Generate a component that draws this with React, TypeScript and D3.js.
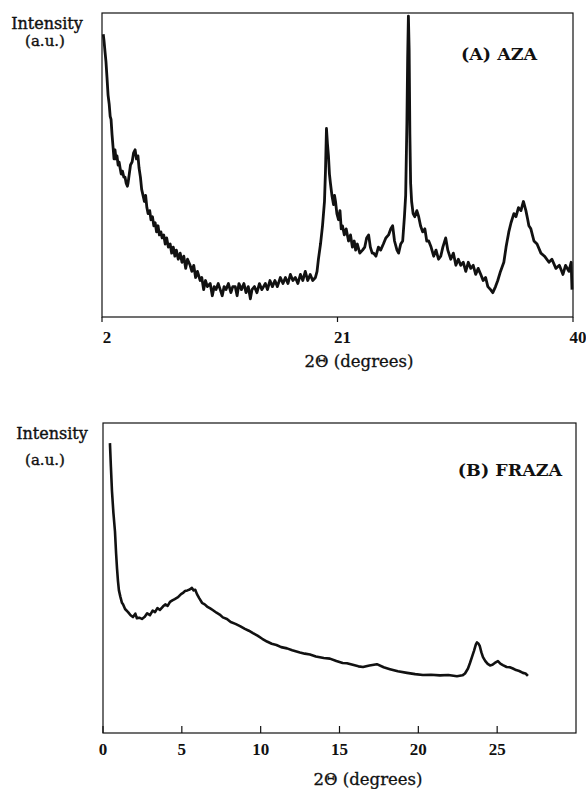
import React from "react";
import * as d3 from "d3";

// (A) AZA pattern, 2θ in degrees vs intensity (a.u.)
const azaTheta = [
  2.1, 2.16, 2.25, 2.32, 2.4, 2.49, 2.58, 2.66, 2.73, 2.81, 2.89, 2.97, 3.05, 3.13, 3.21, 3.3, 3.38, 3.46, 3.55, 3.65,
  3.76, 3.86, 3.95, 4.05, 4.1, 4.2, 4.3, 4.43, 4.55, 4.67, 4.78, 4.9, 4.99, 5.1, 5.2, 5.31, 5.42, 5.52, 5.62, 5.72,
  5.85, 5.95, 6.07, 6.18, 6.29, 6.4, 6.52, 6.63, 6.75, 6.85, 6.98, 7.1, 7.22, 7.35, 7.5, 7.62, 7.75, 7.88, 8.0, 8.15,
  8.31, 8.45, 8.6, 8.75, 8.9, 9.11, 9.25, 9.4, 9.55, 9.7, 9.92, 10.05, 10.2, 10.35, 10.5, 10.73, 10.9, 11.05, 11.2, 11.38,
  11.54, 11.7, 11.85, 12.0, 12.2, 12.4, 12.55, 12.75, 12.9, 13.05, 13.25, 13.45, 13.62, 13.8, 13.97, 14.1, 14.3, 14.5, 14.7, 14.9,
  15.18, 15.35, 15.55, 15.75, 15.95, 16.15, 16.39, 16.6, 16.8, 17.0, 17.2, 17.4, 17.6, 17.8, 18.01, 18.2, 18.4, 18.6, 18.8, 19.0,
  19.22, 19.35, 19.46, 19.63, 19.79, 19.95, 20.03, 20.11, 20.19, 20.27, 20.35, 20.43, 20.55, 20.68, 20.76, 20.84, 20.95, 21.08, 21.2, 21.3,
  21.4, 21.55, 21.7, 21.89, 22.05, 22.2, 22.35, 22.46, 22.6, 22.8, 23.02, 23.2, 23.35, 23.51, 23.65, 23.8, 23.91, 24.1, 24.3, 24.48,
  24.7, 24.9, 25.12, 25.3, 25.45, 25.6, 25.8, 25.93, 26.1, 26.26, 26.4, 26.5, 26.6, 26.66, 26.72, 26.78, 26.84, 26.9, 26.98, 27.1,
  27.23, 27.4, 27.55, 27.7, 27.87, 28.05, 28.2, 28.36, 28.55, 28.76, 28.95, 29.15, 29.33, 29.5, 29.73, 29.9, 30.14, 30.35, 30.55, 30.75,
  30.94, 31.15, 31.35, 31.55, 31.75, 31.95, 32.15, 32.35, 32.56, 32.75, 32.95, 33.13, 33.35, 33.53, 33.75, 33.93, 34.15, 34.42, 34.6, 34.82,
  35.0, 35.23, 35.4, 35.6, 35.8, 36.0, 36.2, 36.35, 36.44, 36.6, 36.85, 37.1, 37.41, 37.7, 38.06, 38.3, 38.62, 38.9, 39.19, 39.4,
  39.67, 39.85, 39.92,
];
const azaIntensity = [
  93, 91, 87, 84, 79, 73, 70, 66, 65, 60, 56, 52, 55, 52, 53, 50, 51, 49, 47, 48,
  46, 46, 44, 43, 44, 47, 50, 51, 54, 55, 52, 53, 49, 46, 42, 40, 38, 40, 36, 34,
  35, 32, 33, 30, 31, 28, 30, 27, 28, 26, 27, 24, 26, 23, 24, 21, 23, 20, 22, 19,
  21, 18, 20, 16, 19, 17, 15, 17, 13, 15, 12, 13, 9, 12, 10, 11, 7, 10, 9, 11,
  9, 7, 10, 9, 11, 8, 10, 10, 7, 11, 9, 11, 8, 10, 6, 9, 10, 8, 11, 9,
  11, 9, 12, 10, 12, 10, 13, 11, 13, 11, 14, 12, 13, 11, 14, 12, 15, 12, 14, 12,
  13, 15, 19, 24, 30, 38, 48, 62, 57, 53, 47, 44, 40, 37, 40, 38, 34, 32, 35, 29,
  30, 27, 29, 25, 27, 23, 25, 22, 24, 21, 22, 23, 26, 27, 23, 21, 21, 20, 23, 22,
  24, 26, 27, 29, 30, 25, 22, 21, 24, 25, 33, 40, 64, 85, 99, 88, 60, 44, 38, 34,
  33, 35, 33, 30, 28, 29, 25, 25, 23, 20, 22, 19, 20, 23, 26, 22, 19, 21, 17, 19,
  17, 18, 15, 18, 16, 17, 14, 16, 14, 12, 13, 10, 9, 8, 10, 12, 15, 18, 23, 28,
  31, 34, 33, 36, 35, 38, 35, 32, 30, 29, 25, 24, 21, 20, 18, 19, 16, 17, 14, 17,
  15, 18, 9,
];

// (B) FRAZA pattern
const frazaTheta = [
  0.44, 0.5, 0.57, 0.66, 0.76, 0.83, 0.89, 0.95, 1.01, 1.1, 1.2, 1.27, 1.4, 1.59, 1.75, 1.9, 2.05, 2.15, 2.3, 2.47,
  2.65, 2.8, 2.98, 3.15, 3.3, 3.45, 3.61, 3.8, 3.95, 4.1, 4.25, 4.4, 4.55, 4.76, 4.95, 5.1, 5.2, 5.35, 5.5, 5.64,
  5.75, 5.85, 5.96, 6.1, 6.28, 6.45, 6.6, 6.8, 6.98, 7.2, 7.4, 7.6, 7.86, 8.1, 8.4, 8.69, 9.0, 9.25, 9.51, 9.8,
  10.1, 10.4, 10.7, 11.0, 11.3, 11.67, 12.0, 12.49, 12.8, 13.13, 13.5, 14.0, 14.39, 14.8, 15.2, 15.47, 15.9, 16.2, 16.49, 16.9,
  17.37, 17.8, 18.2, 18.7, 19.28, 19.8, 20.29, 20.8, 21.37, 21.9, 22.45, 22.8, 22.96, 23.15, 23.27, 23.4, 23.53, 23.65, 23.72, 23.82,
  23.9, 24.0, 24.1, 24.25, 24.4, 24.55, 24.7, 24.85, 25.05, 25.2, 25.36, 25.6, 25.8, 26.0, 26.2, 26.4, 26.63, 26.8, 26.95,
];
const frazaIntensity = [
  93.5, 86, 78, 71, 65, 58, 53, 49, 46, 44, 42, 41.5, 40, 39, 38, 37.4, 38.5, 37, 37.2, 36.8,
  37.5, 38.6, 38, 39.5, 39, 40.3, 39.7, 40.8, 41.5, 41, 42.3, 42.8, 43.2, 43.8, 44.8, 45.3, 45.8, 46, 46.3, 46.8,
  46, 46.2, 44.8, 43.5, 42, 41.5, 40.8, 40.2, 39.6, 38.8, 38.2, 37.3, 36.8, 35.8, 35.2, 34.5, 33.6, 33, 32.2, 31.4,
  30.4, 29.5, 28.8, 28.4, 27.7, 27.3, 26.7, 26, 25.6, 25.3, 24.7, 24.2, 24, 23.2, 22.6, 22.5, 21.9, 21.5, 21.3, 21.8,
  22.2, 21.2, 20.6, 19.9, 19.4, 19.0, 18.7, 18.8, 18.6, 18.7, 18.3, 18.6, 19.2, 20.8, 22.5, 24.5, 26.5, 28.6, 29.2, 28.8,
  28, 26, 24.5, 23.2, 22.3, 21.8, 22, 22.6, 23.2, 22.4, 21.9, 21.3, 21.2, 20.8, 20.3, 20, 19.4, 19.2, 18.4,
];

const azaTicks = [2, 21, 40];
const frazaTicks = [0, 5, 10, 15, 20, 25];

const serif = "DejaVu Serif";
const times = "Liberation Serif, serif";

const A = { left: 102, right: 573, top: 13, bottom: 317 };
const B = { left: 103, right: 576, top: 423, bottom: 733 };

const ink = "#111";

export default function App() {
  const xA = d3.scaleLinear().domain([2, 40]).range([A.left, A.right]);
  const yA = d3.scaleLinear().domain([0, 100]).range([A.bottom, A.top]);
  const xB = d3.scaleLinear().domain([0, 30]).range([B.left, B.right]);
  const yB = d3.scaleLinear().domain([0, 100]).range([B.bottom, B.top]);

  const lineA = d3
    .line<number>()
    .x((d) => xA(d))
    .y((_, i) => yA(azaIntensity[i]));
  const lineB = d3
    .line<number>()
    .x((d) => xB(d))
    .y((_, i) => yB(frazaIntensity[i]));

  const heavy = { fill: ink, stroke: ink, strokeWidth: 0.4 };

  return (
    <div style={{ position: "absolute", left: 0, top: 0 }}>
      <svg width={586} height={789} style={{ display: "block", background: "#fff" }}>
        {/* Panel A */}
        <rect
          x={A.left}
          y={A.top}
          width={A.right - A.left}
          height={A.bottom - A.top}
          fill="none"
          stroke={ink}
          strokeWidth={1.2}
        />
        <path d={lineA(azaTheta) || ""} fill="none" stroke={ink} strokeWidth={2.8} strokeLinejoin="round" />
        <g>
          {azaTicks.map((t) => (
            <g key={t} transform={`translate(${xA(t)},${A.bottom})`}>
              <line y1={0} y2={5} stroke={ink} strokeWidth={1.2} />
              <text x={5} y={26} textAnchor="middle" style={{ fontFamily: times, fontWeight: 700 }} fontSize={17} fill={ink}>
                {t}
              </text>
            </g>
          ))}
        </g>
        <text x={47} y={29} textAnchor="middle" fontFamily={serif} fontSize={16} {...heavy}>
          Intensity
        </text>
        <text x={45} y={46} textAnchor="middle" fontFamily={serif} fontSize={15} {...heavy}>
          (a.u.)
        </text>
        <text x={499} y={60} textAnchor="middle" fontFamily={serif} fontWeight="bold" fontSize={17.5} fill={ink}>
          (A) AZA
        </text>
        <text x={359} y={367} textAnchor="middle" fontFamily={serif} fontSize={16.5} fill={ink} stroke={ink} strokeWidth={0.3}>
          2Θ (degrees)
        </text>

        {/* Panel B */}
        <rect
          x={B.left}
          y={B.top}
          width={B.right - B.left}
          height={B.bottom - B.top}
          fill="none"
          stroke={ink}
          strokeWidth={1.2}
        />
        <path d={lineB(frazaTheta) || ""} fill="none" stroke={ink} strokeWidth={2.6} strokeLinejoin="round" />
        <g>
          {frazaTicks.map((t) => (
            <g key={t} transform={`translate(${xB(t)},${B.bottom})`}>
              <line y1={0} y2={-7} stroke={ink} strokeWidth={1.2} />
              <text x={0} y={22} textAnchor="middle" style={{ fontFamily: times, fontWeight: 700 }} fontSize={17} fill={ink}>
                {t}
              </text>
            </g>
          ))}
        </g>
        <text x={52} y={439} textAnchor="middle" fontFamily={serif} fontSize={16} {...heavy}>
          Intensity
        </text>
        <text x={45} y={465} textAnchor="middle" fontFamily={serif} fontSize={15} {...heavy}>
          (a.u.)
        </text>
        <text x={510} y={476} textAnchor="middle" fontFamily={serif} fontWeight="bold" fontSize={17.5} fill={ink}>
          (B) FRAZA
        </text>
        <text x={368} y={785} textAnchor="middle" fontFamily={serif} fontSize={16.5} fill={ink} stroke={ink} strokeWidth={0.3}>
          2Θ (degrees)
        </text>
      </svg>
    </div>
  );
}
